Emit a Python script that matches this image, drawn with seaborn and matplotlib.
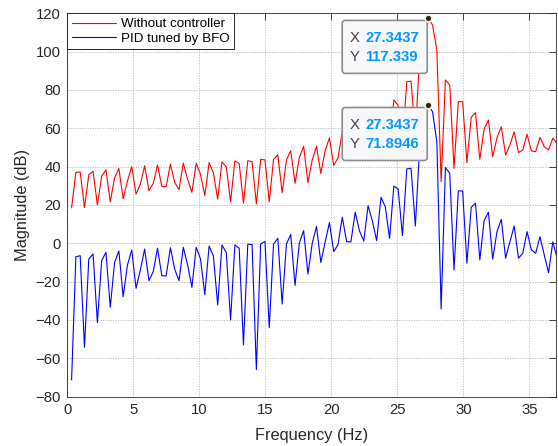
import numpy as np
import pandas as pd
import matplotlib
matplotlib.use("Agg")
import matplotlib.pyplot as plt
import seaborn as sns
from matplotlib.patches import FancyBboxPatch
from matplotlib.transforms import Affine2D, ScaledTranslation

# FFT bins (fs = 1000 Hz, N = 3072), bins 1..114
bin_index = np.arange(1, 115)
freq_hz = bin_index * 1000.0 / 3072.0

mag_without = [
    18.5, 37.0, 37.2, 18.6, 35.7, 37.6, 20.0, 35.0, 38.3, 21.6,
    34.1, 39.0, 23.2, 32.5, 40.0, 25.6, 30.8, 40.4, 27.5, 31.2,
    40.9, 29.6, 29.5, 41.3, 31.7, 28.0, 41.8, 33.4, 26.6, 41.8,
    36.0, 24.9, 42.1, 36.7, 23.1, 42.5, 39.8, 21.6, 43.0, 41.6,
    20.9, 43.1, 42.6, 20.5, 43.8, 43.5, 21.7, 43.8, 46.1, 26.4,
    43.5, 48.3, 31.3, 44.8, 50.6, 31.6, 43.5, 50.6, 36.4, 48.2,
    55.0, 40.6, 44.5, 58.5, 47.0, 47.0, 61.0, 51.5, 48.0, 64.6,
    56.6, 48.5, 69.0, 64.0, 50.5, 74.8, 72.0, 52.0, 84.3, 84.6,
    56.0, 98.0, 101.0, 117.339, 113.9, 100.9, 32.2, 85.2, 82.6, 39.1,
    73.9, 73.9, 42.1, 65.7, 68.2, 43.8, 59.5, 64.3, 45.2, 55.1,
    60.8, 46.1, 51.3, 58.2, 47.3, 48.7, 56.9, 48.2, 47.8, 55.3,
    50.4, 48.7, 54.8, 52.0,
]

mag_pid = [
    -71.3, -7.0, -6.5, -54.3, -8.2, -5.6, -41.4, -9.1, -4.7, -33.4,
    -10.1, -4.0, -27.9, -11.3, -3.5, -23.5, -13.9, -3.0, -19.5, -14.8,
    -2.6, -16.9, -17.1, -2.3, -13.6, -19.5, -2.1, -11.3, -23.0, -2.1,
    -8.2, -26.8, -1.5, -6.6, -32.2, -0.9, -4.9, -40.0, -0.9, -2.6,
    -53.1, -0.5, -0.7, -65.9, -0.4, 1.0, -44.0, -0.4, 2.6, -31.7,
    -0.4, 4.6, -22.0, 0.1, 6.6, -16.1, 0.0, 8.8, -10.0, 0.5,
    10.8, -4.4, -0.7, 13.6, 0.8, 0.7, 16.2, 6.4, 1.2, 19.6,
    11.6, 1.4, 24.0, 19.1, 2.6, 29.9, 28.2, 4.0, 38.8, 39.1,
    9.0, 50.0, 56.0, 71.8946, 68.7, 53.0, -34.3, 39.5, 36.5, -13.9,
    27.3, 27.3, -10.4, 18.8, 20.9, -8.7, 11.8, 16.2, -8.3, 6.1,
    12.5, -7.8, 0.8, 9.0, -7.8, -5.2, 6.1, -3.5, -5.2, 3.4,
    -6.1, -15.3, 0.8, -8.0,
]

series_names = ["Without controller", "PID tuned by BFO"]
series_colors = ["#ff0000", "#0000ff"]
peak_bin = 84  # bin marked with data tips

x_ticks = [0, 5, 10, 15, 20, 25, 30, 35]
y_ticks = [-80, -60, -40, -20, 0, 20, 40, 60, 80, 100, 120]

df = pd.concat([
    pd.DataFrame({"freq": freq_hz, "mag": mag_without, "series": series_names[0]}),
    pd.DataFrame({"freq": freq_hz, "mag": mag_pid, "series": series_names[1]}),
], ignore_index=True)

sns.set_theme(style="white")
plt.rcParams["font.family"] = ["Liberation Sans", "DejaVu Sans"]
ink = "#262626"

fig = plt.figure(figsize=(5.58, 4.46), dpi=100)
ax = fig.add_axes([0.1206, 0.1108, 0.8753, 0.8594])

sns.lineplot(data=df, x="freq", y="mag", hue="series", hue_order=series_names,
             palette=dict(zip(series_names, series_colors)), estimator=None,
             sort=False, linewidth=0.8, ax=ax)

ax.set_xlim(0, 37)
ax.set_ylim(-80, 120)
ax.set_xticks(x_ticks)
ax.set_yticks(y_ticks)
ax.tick_params(direction="in", length=5, width=0.6, top=True, right=True,
               colors=ink, labelsize=10.7, pad=4.5)
for s in ax.spines.values():
    s.set_visible(True)
    s.set_color(ink)
    s.set_linewidth(0.6)
ax.grid(True, color="#bcbcbc", linestyle=(0, (1.2, 1.4)), linewidth=0.7)
ax.set_axisbelow(True)

ax.set_xlabel("Frequency (Hz)", fontsize=11.8, color=ink, labelpad=8)
ax.set_ylabel("Magnitude (dB)", fontsize=11.8, color=ink, labelpad=4)

handles, labels = ax.get_legend_handles_labels()
leg = ax.legend(handles, labels, loc="upper left", borderaxespad=0,
                fontsize=9.6, frameon=True, fancybox=False, framealpha=1,
                edgecolor=ink, handlelength=3.3, handletextpad=0.35,
                borderpad=0.35, labelspacing=0.15)
leg.get_frame().set_linewidth(0.7)
for t in leg.get_texts():
    t.set_color("black")


def data_tip(xv, yv):
    """MATLAB-style data tip anchored at (xv, yv), drawn in pixel offsets."""
    pix = Affine2D() + ScaledTranslation(xv, yv, ax.transData)
    box = FancyBboxPatch((-86, -55), 85, 53,
                         boxstyle="round,pad=0,rounding_size=3",
                         transform=pix, facecolor="#f8f8fb", edgecolor="#8c8c8c",
                         linewidth=1.2, zorder=5, clip_on=False)
    ax.add_patch(box)
    x_txt = f"{np.floor(xv * 1e4) / 1e4:.4f}"
    y_txt = f"{yv:.6g}"
    for dy, key, val in [(-20, "X", x_txt), (-38.5, "Y", y_txt)]:
        ax.annotate(key, xy=(xv, yv), xytext=(-79, dy), textcoords="offset pixels",
                    ha="left", va="center", fontsize=10.7, color="#404040", zorder=6)
        ax.annotate(val, xy=(xv, yv), xytext=(-63, dy), textcoords="offset pixels",
                    ha="left", va="center", fontsize=10.7, fontweight="bold",
                    color="#0099ff", zorder=6)
    ax.plot([xv], [yv], "o", ms=5, mfc="#262626", mec="#fbf6c8", mew=1.2,
            zorder=7, clip_on=False)


data_tip(freq_hz[peak_bin - 1], mag_without[peak_bin - 1])
data_tip(freq_hz[peak_bin - 1], mag_pid[peak_bin - 1])

fig.savefig("out.png", dpi=100)
